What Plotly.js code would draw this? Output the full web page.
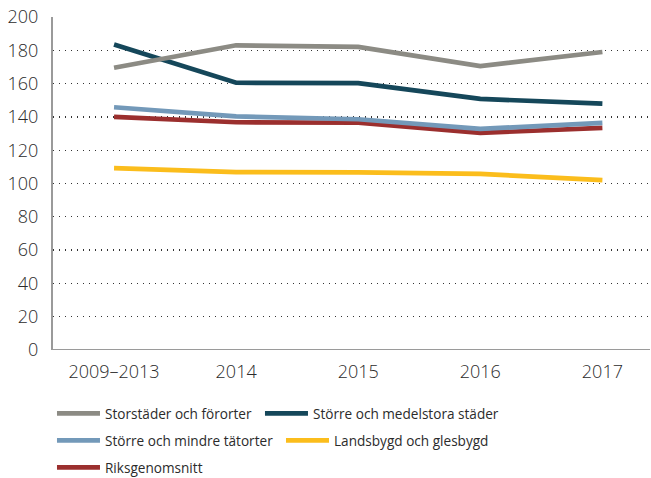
<!DOCTYPE html>
<html>
<head>
<meta charset="utf-8">
<script src="https://cdn.plot.ly/plotly-3.0.1.min.js"></script>
<style>html,body{margin:0;padding:0;background:#fff;}#chart{width:651px;height:478px;}</style>
</head>
<body>
<div id="chart"></div>
<script>
var categories = ["2009–2013", "2014", "2015", "2016", "2017"];
var seriesNames = ["Storstäder och förorter", "Större och medelstora städer", "Större och mindre tätorter", "Landsbygd och glesbygd", "Riksgenomsnitt"];
var storstader = [169.5, 183, 182, 170.5, 179];
var medelstora = [183.5, 160.5, 160.3, 150.8, 148];
var tatorter = [145.8, 140.3, 138.6, 132.8, 136.4];
var landsbygd = [109.2, 106.8, 106.7, 105.8, 102];
var riks = [140, 136.8, 136.5, 130.4, 133.4];
var colors = ["#8c8b84", "#15475a", "#7399b9", "#fbbd1c", "#9b2f2e"];
var yTicks = [0, 20, 40, 60, 80, 100, 120, 140, 160, 180, 200];

var legendIds = ["legend", "legend2", "legend3", "legend4", "legend5"];
var allValues = [storstader, medelstora, tatorter, landsbygd, riks];
var traces = allValues.map(function (vals, i) {
  return {
    type: "scatter",
    mode: "lines",
    x: categories,
    y: vals,
    name: seriesNames[i],
    line: {color: colors[i], width: 4.7},
    hoverinfo: "skip",
    legend: legendIds[i]
  };
});
var order = [4, 2, 3, 1, 0];
var drawTraces = order.map(function (i) { return traces[i]; });

function legendBox(xPaper, yPaper) {
  return {
    orientation: "h",
    x: xPaper, xref: "paper", xanchor: "left",
    y: yPaper, yanchor: "top",
    font: {family: "Open Sans, sans-serif", size: 13.6, color: "#2b2b2b", weight: 400},
    itemwidth: 43,
    bgcolor: "rgba(0,0,0,0)"
  };
}

var layout = {
  width: 651,
  height: 478,
  margin: {l: 53, r: 1, t: 17, b: 128, autoexpand: false},
  paper_bgcolor: "#fff",
  plot_bgcolor: "#fff",
  font: {family: "Open Sans, sans-serif", color: "#2b2b2b", size: 18, weight: 300},
  showlegend: true,
  legend: legendBox(-0.0017, -0.1441),
  legend2: legendBox(0.3467, -0.1441),
  legend3: legendBox(-0.0017, -0.2252),
  legend4: legendBox(0.3819, -0.2252),
  legend5: legendBox(-0.0017, -0.3063),
  xaxis: {
    type: "category",
    range: [-0.5, 4.39],
    showgrid: false,
    zeroline: false,
    showline: false,
    ticks: "",
    ticklabelstandoff: 9,
    tickfont: {size: 18, weight: 300},
    fixedrange: true
  },
  yaxis: {
    range: [0, 200],
    tickvals: yTicks,
    showgrid: true,
    gridcolor: "#333",
    gridwidth: 1.3,
    griddash: "1.3px,4.7px",
    zeroline: false,
    showline: true,
    linecolor: "#9a9a9a",
    linewidth: 2,
    ticks: "",
    ticklabelstandoff: 9,
    tickfont: {size: 18, weight: 300},
    fixedrange: true
  },
  shapes: [{
    type: "line", xref: "paper", yref: "y", x0: 0, x1: 1, y0: 0, y1: 0,
    line: {color: "#9a9a9a", width: 2}
  }]
};

Plotly.newPlot("chart", drawTraces, layout, {displayModeBar: false, staticPlot: true});
</script>
</body>
</html>
